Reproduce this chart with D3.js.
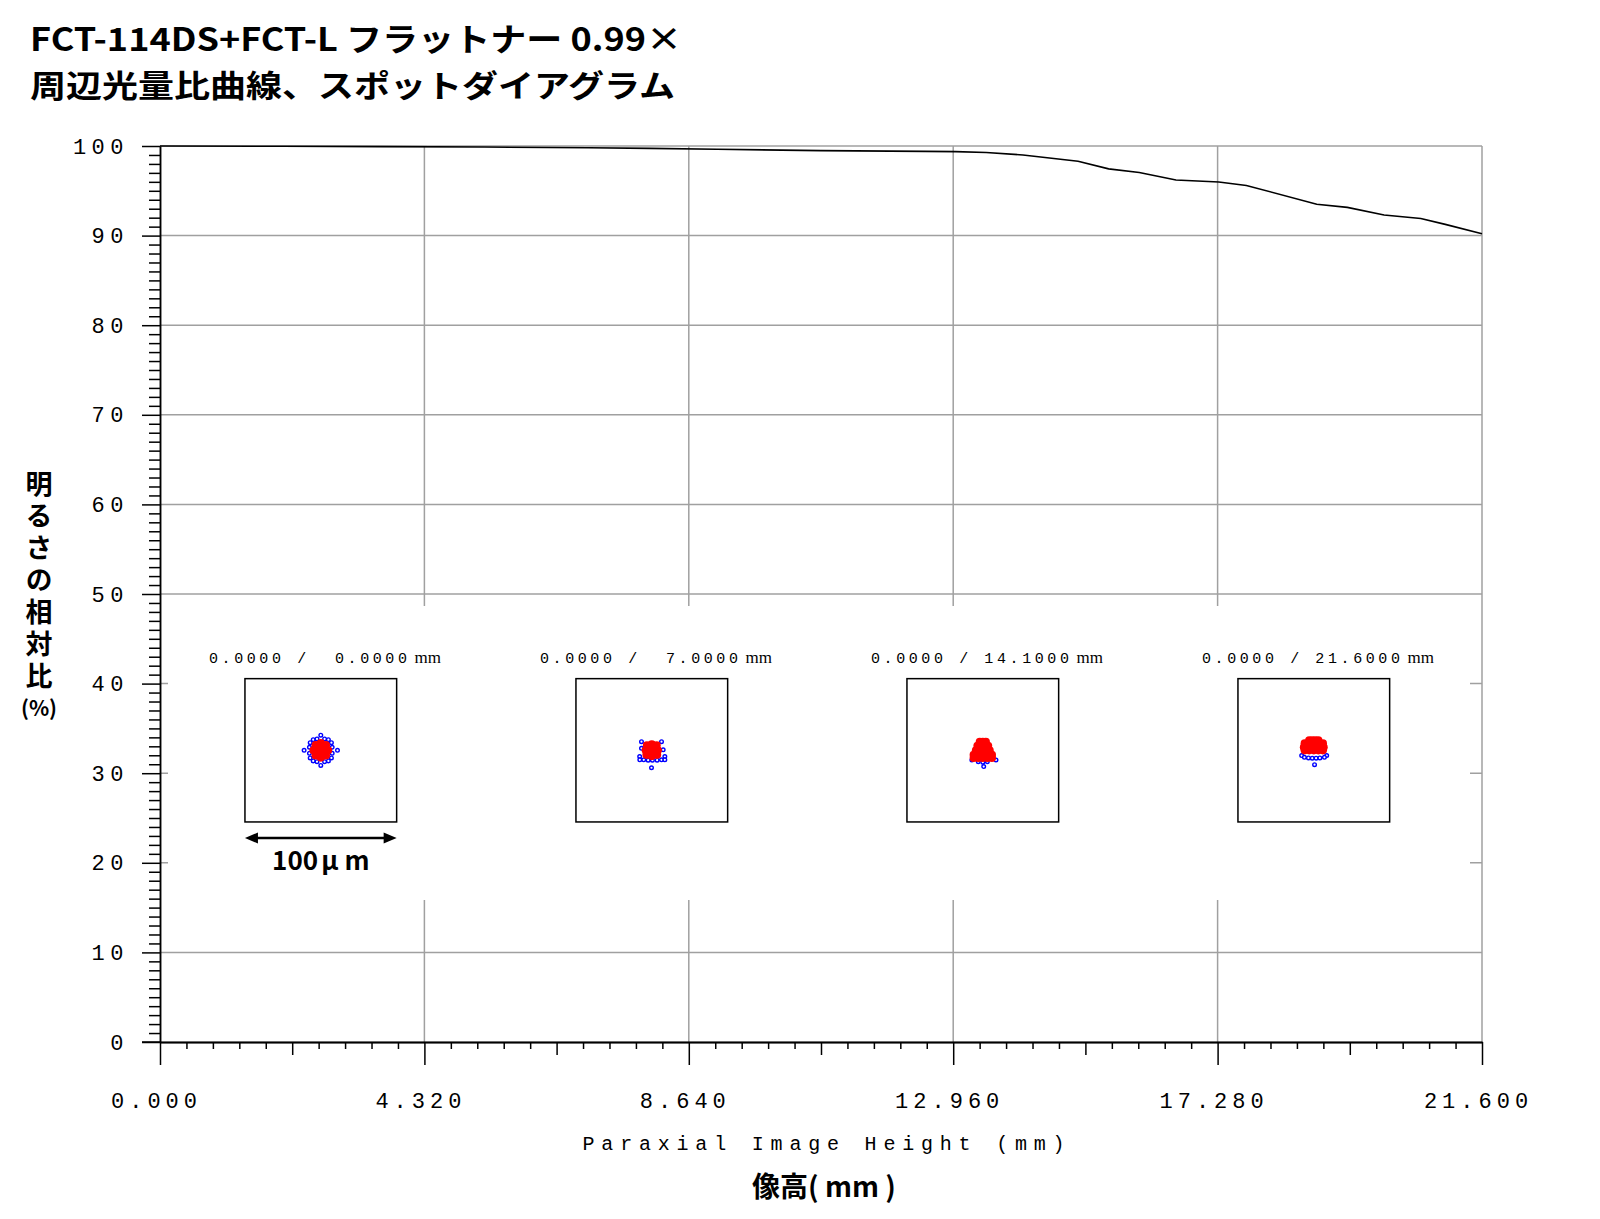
<!DOCTYPE html>
<html><head><meta charset="utf-8">
<script src="https://cdn.jsdelivr.net/npm/d3@7"></script>
<style>body{margin:0;background:#fff} svg{display:block}</style>
</head><body><svg id="c" width="1600" height="1219"></svg>
<script>
// ---------------- data ----------------
const titleLines = ["FCT-114DS+FCT-L フラットナー 0.99×", "周辺光量比曲線、スポットダイアグラム"];
const yLabelText = "明るさの相対比";
const yLabelUnit = "(%)";
const xTitle = "Paraxial Image Height (mm)";
const xTitleJa = ["像高", "( mm )"];
const yTicks = [0,10,20,30,40,50,60,70,80,90,100];
const xTicks = [0, 4.32, 8.64, 12.96, 17.28, 21.6];
// relative illumination curve
const heights    = [0, 2.0, 3.6, 5.3, 7.0, 8.0, 9.1, 10.8, 12.5, 13.0, 13.5, 14.1, 15.0, 15.5, 16.0, 16.6, 17.3, 17.75, 18.9, 19.4, 20.0, 20.6, 21.0, 21.6];
const brightness = [100, 99.97, 99.93, 99.88, 99.8, 99.74, 99.64, 99.48, 99.4, 99.37, 99.28, 99.0, 98.3, 97.45, 97.05, 96.2, 95.98, 95.6, 93.5, 93.15, 92.3, 91.9, 91.25, 90.2];
// spot diagrams (field labels, ray offsets in micrometres, y up)
const spotFields = ["0.0000", "7.0000", "14.1000", "21.6000"];
const spotBlue = [
  [[-5,7],[-2.5,7.5],[2.5,7.5],[5,7],[7,5],[7.5,2],[7.5,-2],[7,-5],[5,-7],[2.5,-7.5],[-2.5,-7.5],[-5,-7],[-7,-5],[-7.5,-2],[-7.5,2],[-7,5],[0,10],[0,-10],[-11,0],[11,0]],
  [[-6.8,5.7],[6.4,5.7],[-6.8,1.3],[7.5,0.3],[-8,-4.1],[8.6,-4.1],[-7.9,-6.3],[-5.3,-6.3],[-2.4,-6.5],[0.4,-6.5],[3.5,-6.5],[6.4,-6.3],[8.6,-6.3],[-0.2,-11.5]],
  [[-7.2,-6.4],[8.7,-6.4],[-3,-7.5],[3,-7.5],[0,-7.8],[0.6,-10.7]],
  [[-8,-3.5],[8.5,-3.5],[-6.2,-4.6],[-3.5,-5],[-1,-5.2],[1.5,-5.2],[4,-5],[7,-4.6],[0.5,-9.5]]
];
const spotRed = [
  [[0,0],[3,0],[-3,0],[0,3],[0,-3],[2.2,2.2],[-2.2,2.2],[2.2,-2.2],[-2.2,-2.2],[4.8,0],[-4.8,0],[0,4.8],[0,-4.8],[3.4,3.4],[-3.4,3.4],[3.4,-3.4],[-3.4,-3.4]],
  [[0,0],[3,0],[-3,0],[0,3],[0,-3],[2.3,2.3],[-2.3,2.3],[2.3,-2.3],[-2.3,-2.3],[4,0],[-4,0],[0,4],[0,-3.8],[3.2,3.2],[-3.2,3.2],[3.5,-3],[-3.5,-3]],
  [[-2,5.5],[0,5.5],[2,5.5],[-3.5,3],[-1,3],[1,3],[3.5,3],[-4.5,0],[-1.5,0],[1.5,0],[4.5,0],[-6,-3],[-3,-3],[0,-3],[3,-3],[6,-3],[-6,-5],[-3,-5],[0,-5],[3,-5],[6,-5]],
  [[-3,6.5],[-1,6.5],[1,6.5],[3,6.5],[-6,4.5],[-3,4.5],[0,4.5],[3,4.5],[6,4.5],[-6.5,2],[-3,2],[0,2],[3,2],[6.5,2],[-6,0],[-3,0],[0,0],[3,0],[6,0]]
];
const scaleBarLabel = ["100", "μ", "m"];

// ---------------- layout ----------------
const svg = d3.select("#c");
const X0 = 160, X1 = 1482, Y0 = 1042, Y1 = 146;
const x = d3.scaleLinear().domain([0, 21.6]).range([X0, X1]);
const y = d3.scaleLinear().domain([0, 100]).range([Y0, Y1]);
const GRID = "#a0a0a0";
const CJK = "'Noto Sans CJK JP', sans-serif";
const MONO = "'Liberation Mono', monospace";

// title
const tl = svg.append("g").attr("font-family", CJK).attr("font-weight", 700).attr("fill", "#000");
tl.append("text").attr("x", 30).attr("y", 51).attr("font-size", 32)
  .attr("textLength", 652).attr("lengthAdjust", "spacingAndGlyphs").text(titleLines[0]);
tl.append("text").attr("x", 30).attr("y", 97).attr("font-size", 31)
  .attr("textLength", 645).attr("lengthAdjust", "spacingAndGlyphs").text(titleLines[1]);

// grid
const grid = svg.append("g").attr("stroke", GRID).attr("stroke-width", 1.5);
grid.selectAll("line.h").data(yTicks.filter(d => d > 0)).join("line").attr("class", "h")
  .attr("x1", X0).attr("x2", X1).attr("y1", d => y(d)).attr("y2", d => y(d));
grid.selectAll("line.v").data(xTicks.filter(d => d > 0)).join("line").attr("class", "v")
  .attr("x1", d => x(d)).attr("x2", d => x(d)).attr("y1", Y0).attr("y2", Y1);

// curve
svg.append("path").datum(heights.map((h, i) => [h, brightness[i]]))
  .attr("fill", "none").attr("stroke", "#000").attr("stroke-width", 1.6)
  .attr("d", d3.line().x(d => x(d[0])).y(d => y(d[1])));

// white mask behind inset
svg.append("rect").attr("x", 168).attr("y", 606).attr("width", 1302).attr("height", 294).attr("fill", "#fff");

// axes
function styleAxis(g) {
  g.select(".domain").attr("stroke", "#000").attr("stroke-width", 1.5);
  g.selectAll(".tick line").attr("stroke", "#000").attr("stroke-width", 1.5);
}
svg.append("g").attr("transform", `translate(${X0},0)`)
  .call(d3.axisLeft(y).tickValues(d3.range(0, 101, 1).filter(d => d % 10)).tickSize(11).tickSizeOuter(0).tickFormat(""))
  .call(styleAxis);
const ya = svg.append("g").attr("transform", `translate(${X0},0)`)
  .call(d3.axisLeft(y).tickValues(yTicks).tickSize(18).tickSizeOuter(0).tickPadding(13).tickFormat(d3.format("d")))
  .call(styleAxis);
ya.selectAll("text").attr("font-family", MONO).attr("font-size", 22)
  .style("letter-spacing", "5.5px").attr("fill", "#000");

const mediumTicks = xTicks.slice(0, -1).map(d => d + 2.16);
svg.append("g").attr("transform", `translate(0,${Y0})`)
  .call(d3.axisBottom(x).tickValues(d3.range(0, 50).map(i => i * 0.432).filter((d, i) => i % 5 !== 0)).tickSize(7).tickSizeOuter(0).tickFormat(""))
  .call(styleAxis);
svg.append("g").attr("transform", `translate(0,${Y0})`)
  .call(d3.axisBottom(x).tickValues(mediumTicks).tickSize(13).tickSizeOuter(0).tickFormat(""))
  .call(styleAxis);
const xa = svg.append("g").attr("transform", `translate(0,${Y0})`)
  .call(d3.axisBottom(x).tickValues(xTicks).tickSize(23).tickSizeOuter(0).tickPadding(27).tickFormat(d3.format(".3f")))
  .call(styleAxis);
xa.selectAll("text").attr("font-family", MONO).attr("font-size", 22)
  .style("letter-spacing", "5px").attr("fill", "#000").attr("dx", -4);
svg.append("line").attr("x1", 142).attr("x2", X0).attr("y1", Y0).attr("y2", Y0).attr("stroke", "#000").attr("stroke-width", 1.5);

// axis titles
svg.append("text").attr("x", 827).attr("y", 1150).attr("text-anchor", "middle")
  .attr("font-family", MONO).attr("font-size", 20).style("letter-spacing", "6.8px")
  .text(xTitle);
const xj = svg.append("text").attr("x", 824).attr("y", 1197).attr("text-anchor", "middle")
  .attr("font-family", CJK).attr("font-weight", 700).attr("font-size", 28).style("white-space", "pre");
xj.append("tspan").text(xTitleJa[0]);
xj.append("tspan").text(xTitleJa[1]);

svg.append("text").attr("x", 39).attr("y", 470)
  .attr("font-family", CJK).attr("font-weight", 700).attr("font-size", 27)
  .style("writing-mode", "vertical-rl").style("letter-spacing", "5px")
  .text(yLabelText);
svg.append("text").attr("x", 39).attr("y", 716).attr("text-anchor", "middle")
  .attr("font-family", CJK).attr("font-weight", 700).attr("font-size", 21).text(yLabelUnit);

// spot diagrams
const boxW = 151.7, boxH = 143.3, boxCY = 750.3;
const bx = d3.scalePoint().domain(spotFields).range([320.8, 1313.8]);
const um = d3.scaleLinear().domain([-50, 50]).range([-boxW / 2, boxW / 2]);
const umY = d3.scaleLinear().domain([-50, 50]).range([boxW / 2, -boxW / 2]);
function pad7(s) { return (" ".repeat(7) + s).slice(-7); }

spotFields.forEach((f, i) => {
  const cx = bx(f);
  const g = svg.append("g");
  g.append("rect").attr("x", cx - boxW / 2).attr("y", boxCY - boxH / 2).attr("width", boxW).attr("height", boxH)
    .attr("fill", "#fff").attr("stroke", "#000").attr("stroke-width", 1.5);
  const t = g.append("text").attr("x", cx - boxW / 2 - 36).attr("y", 662.5).style("white-space", "pre");
  t.append("tspan").attr("font-family", MONO).attr("font-size", 15)
    .style("letter-spacing", "3.6px").text("0.0000 / " + pad7(f));
  t.append("tspan").attr("font-family", "'Liberation Serif', serif").attr("font-size", 17)
    .attr("dx", 4).text("mm");
  const sg = g.append("g").attr("transform", `translate(${cx},${boxCY})`);
  sg.selectAll("circle.b").data(spotBlue[i]).join("circle").attr("class", "b")
    .attr("cx", d => um(d[0])).attr("cy", d => umY(d[1])).attr("r", 1.8)
    .attr("fill", "#fff").attr("stroke", "#0000ff").attr("stroke-width", 1.4);
  sg.selectAll("circle.r").data(spotRed[i]).join("circle").attr("class", "r")
    .attr("cx", d => um(d[0])).attr("cy", d => umY(d[1])).attr("r", 4.1)
    .attr("fill", "#ff0000");
});

// scale bar
const sbL = bx(spotFields[0]) - boxW / 2, sbR = bx(spotFields[0]) + boxW / 2, sbY = 838;
svg.append("line").attr("x1", sbL + 10).attr("x2", sbR - 10).attr("y1", sbY).attr("y2", sbY).attr("stroke", "#000").attr("stroke-width", 2.5);
svg.append("path").attr("d", `M${sbL},${sbY} l13,-5.5 l0,11 Z M${sbR},${sbY} l-13,-5.5 l0,11 Z`).attr("fill", "#000");
const sbt = svg.append("text").attr("x", bx(spotFields[0])).attr("y", 870).attr("text-anchor", "middle")
  .attr("font-family", CJK).attr("font-weight", 700).attr("font-size", 26);
sbt.append("tspan").text(scaleBarLabel[0]);
sbt.append("tspan").attr("dx", 3).text(scaleBarLabel[1]);
sbt.append("tspan").attr("dx", 6).text(scaleBarLabel[2]);
</script></body></html>
